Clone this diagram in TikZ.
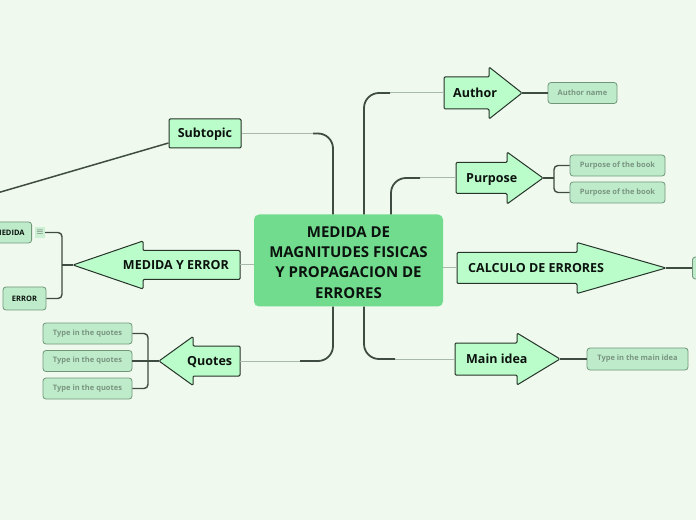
\documentclass[tikz,border=0pt]{standalone}
\usepackage{fontspec}
\setmainfont{Open Sans}

\definecolor{mapBackground}{RGB}{240,249,238}
\definecolor{mapCentral}{RGB}{113,220,142}
\definecolor{mapTopic}{RGB}{186,252,202}
\definecolor{mapTopicBorder}{RGB}{38,52,42}
\definecolor{mapChild}{RGB}{190,236,203}
\definecolor{mapChildBorder}{RGB}{112,150,122}
\definecolor{mapChildText}{RGB}{122,148,128}
\definecolor{mapIcon}{RGB}{204,240,212}
\definecolor{mapTrunk}{RGB}{62,76,66}
\definecolor{mapTwig}{RGB}{168,184,170}
\definecolor{mapText}{RGB}{12,18,14}

\begin{document}
\begin{tikzpicture}[x=1pt,y=1pt,
      central/.style={fill=mapCentral, rounded corners=5pt, minimum width=189,
        minimum height=92, align=center, text=mapText,
        font=\fontsize{15}{20.3}\selectfont\bfseries},
      topic/.style={draw=mapTopicBorder, fill=mapTopic, line width=1pt,
        rounded corners=1.2pt},
      topictext/.style={font=\fontsize{12.5}{15}\selectfont\bfseries,
        text=mapText, inner sep=0pt, text height=9pt, text depth=0pt},
      child/.style={draw=mapChildBorder, fill=mapChild, rounded corners=3pt,
        line width=.8pt, font=\fontsize{7.5}{9}\selectfont\bfseries,
        text=mapChildText, minimum height=21, inner sep=0pt},
      iconbox/.style={fill=mapIcon, minimum width=10, minimum height=11,
        inner sep=0pt, text=mapTrunk, font=\fontsize{9}{9}\selectfont},
      trunk/.style={draw=mapTrunk, line width=1.8pt, rounded corners=15pt},
      twig/.style={draw=mapTwig, line width=1pt},
      bracket/.style={draw=mapTrunk, line width=1.4pt, rounded corners=4pt}]
      \useasboundingbox (0,0) rectangle (696,520);
      \fill[mapBackground] (0,0) rectangle (696,520);

      \begin{scope}
      \clip (0,0) rectangle (696,520);

      \node[central] (central) at (348.5,259.5) {};
      \node[align=center, text=mapText, inner sep=0pt,
        font=\fontsize{15}{20.3}\selectfont\bfseries] (centraltext)
        at (348.5,257.5) {MEDIDA DE\\MAGNITUDES FISICAS\\Y PROPAGACION DE\\ERRORES};

      % Subtopic box and its loose line
      \node[topic, topictext, minimum width=72, minimum height=29]
        (subtopic) at (205,386.5) {Subtopic};
      \coordinate (offleft) at (-20,322);
      \draw[mapTrunk, line width=1.5pt] ([yshift=-9.5]subtopic.west) -- (offleft);
      \coordinate (subbend) at (313,386.5);
      \draw[trunk] ([xshift=-15.5]central.north) |- (subbend);
      \draw[twig] (subbend) -- (subtopic.east);

      % Author
      \path[topic] (444,443) -- (489,443) -- (489,453) -- (522,427)
        -- (489,401) -- (489,411) -- (444,411) -- cycle;
      \node[topictext, anchor=west] (author) at (453,427) {Author};
      \coordinate (authorback) at (444,427);
      \coordinate (authortip) at (522,427);
      \coordinate (authorbend) at (390,427);
      \draw[trunk] ([xshift=15.5]central.north) |- (authorbend);
      \draw[twig] (authorbend) -- (authorback);
      \node[child, minimum width=69] (authorname) at (582.5,427) {Author name};
      \draw[bracket] (authortip) -- (authorname.west);

      % Purpose
      \path[topic] (456,357.5) -- (507,357.5) -- (507,368) -- (543,342)
        -- (507,316) -- (507,326.5) -- (456,326.5) -- cycle;
      \node[topictext, anchor=west] (purpose) at (466,341.5) {Purpose};
      \coordinate (purposeback) at (456,342);
      \coordinate (purposetip) at (543,342);
      \coordinate (purposebend) at (420,342);
      \coordinate (purposefork) at (554,342);
      \draw[trunk] ([xshift=42.5]central.north) |- (purposebend);
      \draw[twig] (purposebend) -- (purposeback);
      \node[child, minimum width=95] (purposeone) at (617.5,354.5) {Purpose of the book};
      \node[child, minimum width=95] (purposetwo) at (617.5,327.5) {Purpose of the book};
      \draw[bracket] (purposetip) -- (purposefork);
      \draw[bracket] (purposefork) |- (purposeone.west);
      \draw[bracket] (purposefork) |- (purposetwo.west);

      % Calculo de errores
      \path[topic] (457,267.5) -- (577,267.5) -- (577,277.5) -- (666,252)
        -- (577,226.5) -- (577,236.5) -- (457,236.5) -- cycle;
      \node[topictext, anchor=west] (calculo) at (468,252) {CALCULO DE ERRORES};
      \coordinate (calcback) at (457,252);
      \coordinate (calctip) at (666,252);
      \draw[twig] (central.east |- calcback) -- (calcback);
      \node[child, minimum width=40, minimum height=22, anchor=west]
        (calcchild) at (692,252) {};
      \draw[bracket] (calctip) -- (calcchild.west);

      % Main idea
      \path[topic] (455,177) -- (517,177) -- (517,187) -- (560,161)
        -- (517,135) -- (517,145) -- (455,145) -- cycle;
      \node[topictext, anchor=west] (mainidea) at (466,161) {Main idea};
      \coordinate (mainback) at (455,161);
      \coordinate (maintip) at (560,161);
      \coordinate (mainbend) at (395,161);
      \draw[trunk] ([xshift=15.5]central.south) |- (mainbend);
      \draw[twig] (mainbend) -- (mainback);
      \node[child, minimum width=101, minimum height=22] (mainchild) at (637.5,161)
        {Type in the main idea};
      \draw[bracket] (maintip) -- (mainchild.west);

      % Medida y error
      \path[topic] (240,269.5) -- (143,269.5) -- (143,279) -- (73,255)
        -- (143,231) -- (143,240.5) -- (240,240.5) -- cycle;
      \node[topictext, anchor=east] (medidaerror) at (229,255) {MEDIDA Y ERROR};
      \coordinate (medidaback) at (240,255);
      \coordinate (medidatip) at (73,255);
      \coordinate (medidafork) at (62,255);
      \draw[twig] (central.west |- medidaback) -- (medidaback);
      \node[child, text=mapText, anchor=east, minimum height=21, inner xsep=7pt]
        (medida) at (32,287.5) {MEDIDA};
      \node[iconbox] (medidaicon) at (40,287.5) {$\equiv$};
      \node[child, text=mapText, minimum width=43, minimum height=23]
        (error) at (24.5,221.5) {ERROR};
      \draw[bracket] (medidatip) -- (medidafork);
      \draw[bracket] (medidafork) |- (medidaicon.east);
      \draw[bracket] (medidafork) |- (error.east);

      % Quotes
      \path[topic] (240,174) -- (193,174) -- (193,183.5) -- (159,159)
        -- (193,134.5) -- (193,144) -- (240,144) -- cycle;
      \node[topictext, anchor=west] (quotes) at (187,159) {Quotes};
      \coordinate (quotesback) at (240,159);
      \coordinate (quotestip) at (159,159);
      \coordinate (quotesbend) at (300,159);
      \coordinate (quotesfork) at (148,159);
      \draw[trunk] ([xshift=-15.5]central.south) |- (quotesbend);
      \draw[twig] (quotesbend) -- (quotesback);
      \node[child, minimum width=89] (quoteone) at (87.5,186.5) {Type in the quotes};
      \node[child, minimum width=89] (quotetwo) at (87.5,159) {Type in the quotes};
      \node[child, minimum width=89] (quotethree) at (87.5,131.5) {Type in the quotes};
      \draw[bracket] (quotestip) -- (quotesfork);
      \draw[bracket] (quotesfork) |- (quoteone.east);
      \draw[bracket] (quotesfork) -- (quotetwo.east);
      \draw[bracket] (quotesfork) |- (quotethree.east);
      \end{scope}
    \end{tikzpicture}
\end{document}
